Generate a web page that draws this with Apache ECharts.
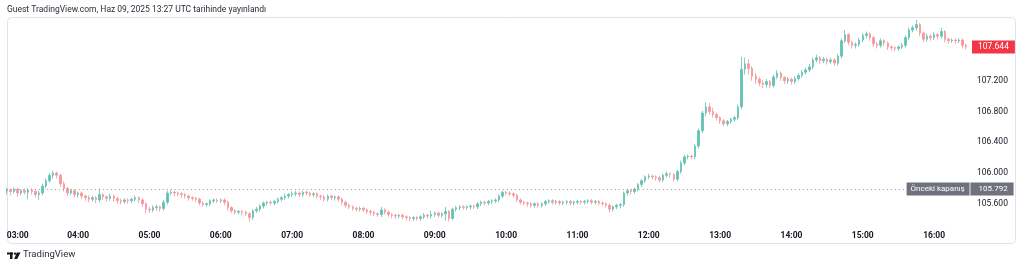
<!DOCTYPE html>
<html><head><meta charset="utf-8">
<script src="https://cdn.jsdelivr.net/npm/echarts@6/dist/echarts.min.js"></script>
<style>html,body{margin:0;padding:0;background:#fff}#c{width:1024px;height:268px}</style>
</head><body><div id="c"></div>
<script>
// --- data (3-minute candles: open, close, low, high) ---
const startMinute = 180;   // 03:00
const stepMinutes = 3;
const ohlc = [
[105.77,105.78,105.72,105.81],[105.78,105.76,105.71,105.80],[105.76,105.79,105.73,105.81],[105.79,105.74,105.69,105.81],
[105.74,105.77,105.71,105.79],[105.77,105.75,105.72,105.80],[105.75,105.78,105.66,105.80],[105.78,105.76,105.72,105.80],
[105.76,105.72,105.68,105.78],[105.72,105.74,105.65,105.77],[105.74,105.83,105.71,105.86],[105.83,105.90,105.80,105.93],
[105.90,105.97,105.87,106.00],[105.97,106.00,105.93,106.03],[106.00,105.97,105.93,106.02],[105.97,105.86,105.82,105.99],
[105.86,105.80,105.76,105.89],[105.80,105.74,105.70,105.82],[105.74,105.77,105.71,105.79],[105.77,105.72,105.68,105.79],
[105.72,105.74,105.68,105.76],[105.74,105.70,105.66,105.76],[105.70,105.68,105.64,105.72],[105.68,105.66,105.62,105.71],
[105.66,105.68,105.63,105.70],[105.68,105.65,105.61,105.70],[105.65,105.72,105.62,105.80],[105.72,105.69,105.65,105.74],
[105.69,105.67,105.63,105.71],[105.67,105.70,105.64,105.73],[105.70,105.67,105.63,105.72],[105.67,105.64,105.60,105.69],
[105.64,105.63,105.59,105.67],[105.63,105.65,105.60,105.67],[105.65,105.64,105.60,105.67],[105.64,105.66,105.61,105.68],
[105.66,105.68,105.63,105.71],[105.68,105.65,105.61,105.70],[105.65,105.60,105.56,105.67],[105.60,105.53,105.47,105.62],
[105.53,105.52,105.48,105.56],[105.52,105.55,105.49,105.58],[105.55,105.56,105.51,105.59],[105.56,105.54,105.50,105.58],
[105.54,105.62,105.51,105.65],[105.62,105.74,105.59,105.77],[105.74,105.75,105.71,105.78],[105.75,105.74,105.70,105.77],
[105.74,105.73,105.70,105.76],[105.73,105.72,105.68,105.75],[105.72,105.70,105.67,105.74],[105.70,105.68,105.64,105.72],
[105.68,105.67,105.64,105.70],[105.67,105.66,105.62,105.69],[105.66,105.61,105.58,105.68],[105.61,105.59,105.56,105.63],
[105.59,105.60,105.56,105.62],[105.60,105.64,105.57,105.66],[105.64,105.65,105.61,105.67],[105.65,105.64,105.61,105.67],
[105.64,105.65,105.61,105.67],[105.65,105.62,105.58,105.67],[105.62,105.55,105.51,105.64],[105.55,105.51,105.48,105.57],
[105.51,105.49,105.46,105.53],[105.49,105.50,105.46,105.52],[105.50,105.49,105.45,105.52],[105.49,105.47,105.44,105.51],
[105.47,105.42,105.37,105.49],[105.42,105.51,105.39,105.53],[105.51,105.53,105.48,105.56],[105.53,105.57,105.50,105.59],
[105.57,105.61,105.54,105.63],[105.61,105.62,105.58,105.64],[105.62,105.61,105.58,105.64],[105.61,105.63,105.58,105.65],
[105.63,105.66,105.60,105.68],[105.66,105.68,105.63,105.70],[105.68,105.70,105.65,105.73],[105.70,105.72,105.67,105.74],
[105.72,105.73,105.69,105.76],[105.73,105.74,105.70,105.77],[105.74,105.72,105.69,105.76],[105.72,105.75,105.69,105.77],
[105.75,105.74,105.71,105.77],[105.74,105.72,105.69,105.76],[105.72,105.73,105.69,105.75],[105.73,105.70,105.67,105.75],
[105.70,105.69,105.65,105.72],[105.69,105.66,105.63,105.71],[105.66,105.70,105.63,105.72],[105.70,105.68,105.65,105.72],
[105.68,105.69,105.64,105.71],[105.69,105.66,105.63,105.71],[105.66,105.62,105.58,105.68],[105.62,105.58,105.55,105.64],
[105.58,105.56,105.53,105.60],[105.56,105.54,105.51,105.58],[105.54,105.53,105.50,105.56],[105.53,105.54,105.50,105.56],
[105.54,105.52,105.49,105.56],[105.52,105.50,105.47,105.54],[105.50,105.49,105.45,105.52],[105.49,105.47,105.44,105.51],
[105.47,105.46,105.43,105.49],[105.46,105.52,105.43,105.56],[105.52,105.49,105.46,105.54],[105.49,105.46,105.43,105.51],
[105.46,105.45,105.41,105.48],[105.45,105.44,105.40,105.47],[105.44,105.45,105.41,105.47],[105.45,105.43,105.40,105.47],
[105.43,105.42,105.38,105.45],[105.42,105.41,105.37,105.44],[105.41,105.42,105.38,105.44],[105.42,105.41,105.38,105.44],
[105.41,105.43,105.38,105.45],[105.43,105.45,105.40,105.48],[105.45,105.44,105.41,105.47],[105.44,105.46,105.41,105.51],
[105.46,105.48,105.43,105.50],[105.48,105.45,105.42,105.50],[105.45,105.47,105.42,105.49],[105.47,105.50,105.38,105.56],
[105.50,105.41,105.37,105.52],[105.41,105.53,105.39,105.55],[105.53,105.55,105.50,105.57],[105.55,105.56,105.52,105.58],
[105.56,105.55,105.52,105.58],[105.55,105.56,105.52,105.58],[105.56,105.57,105.53,105.59],[105.57,105.56,105.53,105.59],
[105.56,105.60,105.53,105.62],[105.60,105.62,105.57,105.64],[105.62,105.61,105.58,105.64],[105.61,105.63,105.58,105.65],
[105.63,105.64,105.60,105.66],[105.64,105.65,105.61,105.67],[105.65,105.70,105.62,105.72],[105.70,105.75,105.67,105.77],
[105.75,105.74,105.71,105.77],[105.74,105.73,105.70,105.76],[105.73,105.71,105.68,105.75],[105.71,105.65,105.62,105.73],
[105.65,105.62,105.59,105.67],[105.62,105.61,105.58,105.64],[105.61,105.60,105.56,105.63],[105.60,105.58,105.55,105.62],
[105.58,105.60,105.55,105.62],[105.60,105.58,105.55,105.62],[105.58,105.60,105.55,105.62],[105.60,105.63,105.57,105.65],
[105.63,105.64,105.60,105.66],[105.64,105.62,105.59,105.66],[105.62,105.63,105.59,105.65],[105.63,105.61,105.58,105.65],
[105.61,105.62,105.58,105.64],[105.62,105.63,105.59,105.65],[105.63,105.61,105.58,105.65],[105.61,105.62,105.58,105.64],
[105.62,105.63,105.59,105.65],[105.63,105.62,105.59,105.65],[105.62,105.63,105.59,105.65],[105.63,105.64,105.60,105.66],
[105.64,105.62,105.59,105.66],[105.62,105.63,105.59,105.65],[105.63,105.61,105.58,105.65],[105.61,105.60,105.57,105.63],
[105.60,105.58,105.55,105.62],[105.58,105.53,105.49,105.60],[105.53,105.56,105.50,105.58],[105.56,105.58,105.53,105.60],
[105.58,105.59,105.54,105.61],[105.59,105.74,105.56,105.76],[105.74,105.77,105.71,105.79],[105.77,105.76,105.72,105.79],
[105.76,105.79,105.73,105.81],[105.79,105.85,105.76,105.87],[105.85,105.90,105.82,105.92],[105.90,105.95,105.87,105.97],
[105.95,105.96,105.92,105.99],[105.96,105.95,105.92,105.98],[105.95,105.94,105.90,105.97],[105.94,105.91,105.88,105.96],
[105.91,105.97,105.88,105.99],[105.97,105.99,105.94,106.02],[105.99,105.98,105.94,106.01],[105.98,105.92,105.89,106.00],
[105.92,106.02,105.89,106.04],[106.02,106.13,105.99,106.16],[106.13,106.21,106.10,106.24],[106.21,106.22,106.18,106.24],
[106.22,106.21,106.18,106.24],[106.21,106.35,106.18,106.38],[106.35,106.55,106.32,106.58],[106.55,106.78,106.52,106.81],
[106.78,106.86,106.74,106.92],[106.86,106.80,106.76,106.91],[106.80,106.76,106.72,106.85],[106.76,106.72,106.68,106.78],
[106.72,106.68,106.64,106.74],[106.68,106.64,106.61,106.70],[106.64,106.67,106.61,106.69],[106.67,106.70,106.64,106.72],
[106.70,106.72,106.67,106.74],[106.72,106.86,106.69,106.89],[106.86,107.35,106.83,107.51],[107.35,107.42,107.28,107.50],
[107.42,107.36,107.28,107.48],[107.36,107.26,107.20,107.39],[107.26,107.22,107.16,107.30],[107.22,107.17,107.13,107.25],
[107.17,107.15,107.10,107.21],[107.15,107.19,107.11,107.22],[107.19,107.14,107.10,107.21],[107.14,107.25,107.11,107.28],
[107.25,107.30,107.22,107.34],[107.30,107.24,107.20,107.32],[107.24,107.20,107.16,107.26],[107.20,107.22,107.16,107.25],
[107.22,107.19,107.15,107.24],[107.19,107.23,107.16,107.26],[107.23,107.27,107.20,107.30],[107.27,107.31,107.24,107.34],
[107.31,107.34,107.28,107.37],[107.34,107.38,107.31,107.42],[107.38,107.47,107.35,107.50],[107.47,107.50,107.44,107.54],
[107.50,107.46,107.42,107.52],[107.46,107.48,107.43,107.51],[107.48,107.45,107.41,107.50],[107.45,107.47,107.42,107.50],
[107.47,107.43,107.39,107.49],[107.43,107.52,107.40,107.55],[107.52,107.72,107.49,107.75],[107.72,107.80,107.69,107.86],
[107.80,107.70,107.66,107.82],[107.70,107.66,107.62,107.72],[107.66,107.67,107.62,107.70],[107.67,107.73,107.64,107.76],
[107.73,107.79,107.70,107.82],[107.79,107.81,107.75,107.84],[107.81,107.76,107.72,107.83],[107.76,107.68,107.64,107.78],
[107.68,107.66,107.62,107.70],[107.66,107.72,107.63,107.75],[107.72,107.69,107.65,107.74],[107.69,107.64,107.60,107.71],
[107.64,107.63,107.59,107.66],[107.63,107.62,107.58,107.65],[107.62,107.64,107.59,107.66],[107.64,107.66,107.61,107.69],
[107.66,107.76,107.63,107.79],[107.76,107.86,107.73,107.89],[107.86,107.89,107.83,107.92],[107.89,107.93,107.85,107.99],
[107.93,107.82,107.78,107.95],[107.82,107.74,107.70,107.84],[107.74,107.78,107.71,107.81],[107.78,107.76,107.72,107.80],
[107.76,107.80,107.73,107.83],[107.80,107.78,107.74,107.82],[107.78,107.84,107.75,107.89],[107.84,107.74,107.70,107.86],
[107.74,107.72,107.68,107.76],[107.72,107.73,107.69,107.75],[107.73,107.72,107.68,107.75],[107.72,107.73,107.69,107.75],
[107.73,107.66,107.62,107.75],[107.66,107.644,107.61,107.68]
];
const yTicks = [105.6, 106.0, 106.4, 106.8, 107.2];
const lastPrice = 107.644;
const prevClose = 105.792;
const prevCloseLabel = 'Önceki kapanış';
const titleText = 'Guest TradingView.com, Haz 09, 2025 13:27 UTC tarihinde yayınlandı';
const brandText = 'TradingView';

// category labels (time of each candle)
const categories = ohlc.map((_, i) => {
  const m = startMinute + i * stepMinutes;
  return String(Math.floor(m / 60)).padStart(2, '0') + ':' + String(m % 60).padStart(2, '0');
});

const UP = '#62c2b2', DOWN = '#f6959a';
const FONT = 'Roboto, "Liberation Sans", sans-serif';
const chart = echarts.init(document.getElementById('c'), null, { renderer: 'canvas' });
chart.setOption({
  animation: false,
  backgroundColor: '#ffffff',
  grid: { left: 5, right: 56, top: 18, bottom: 42 },
  xAxis: {
    type: 'category', data: categories, boundaryGap: true,
    axisLine: { show: false }, axisTick: { show: false }, splitLine: { show: false },
    axisLabel: {
      interval: (idx, val) => val.endsWith(':00'),
      color: '#131722', fontSize: 8.5, fontWeight: 'bold', fontFamily: FONT, margin: 5,
      alignMinLabel: 'left'
    }
  },
  yAxis: {
    type: 'value', position: 'right', min: 105.311, max: 108.016, scale: true,
    axisLine: { show: false }, axisTick: { show: false }, splitLine: { show: false },
    axisLabel: {
      customValues: yTicks, formatter: v => v.toFixed(3),
      color: '#131722', fontSize: 8.5, fontFamily: FONT, margin: 9, padding: [4, 0, 0, 0]
    }
  },
  series: [{
    type: 'candlestick', data: ohlc, barWidth: 2,
    itemStyle: { color: UP, color0: DOWN, borderColor: UP, borderColor0: DOWN, borderWidth: 0.8 },
    markLine: {
      silent: true, symbol: 'none', animation: false,
      data: [
        [{ coord: [0, prevClose],
           lineStyle: { type: [1, 3], color: '#9598a1', width: 1 },
           label: { show: true, position: 'end', distance: 1,
             formatter: '{a|' + prevCloseLabel + '}{s|}{b|' + prevClose.toFixed(3) + '}',
             rich: {
               a: { backgroundColor: '#6f727c', color: '#ffffff', fontSize: 8, fontFamily: FONT, padding: [2, 3, 2, 4], width: 56, height: 9, lineHeight: 9 },
               s: { backgroundColor: '#b8bbc3', width: 1, height: 13 },
               b: { backgroundColor: '#6f727c', color: '#ffffff', fontSize: 8, fontFamily: FONT, padding: [2, 4, 2, 8], width: 31, height: 9, lineHeight: 9 }
             } } },
         { coord: [252, prevClose] }],
        { yAxis: lastPrice,
          lineStyle: { color: 'rgba(0,0,0,0)', width: 0 },
          label: { show: true, position: 'end', distance: 4, formatter: lastPrice.toFixed(3),
            backgroundColor: '#f23645', color: '#ffffff', fontSize: 8.5, fontFamily: FONT,
            padding: [2, 6, 2, 6], opacity: 1 } }
      ]
    }
  }],
  graphic: [
    { type: 'rect', shape: { x: 7.5, y: 17.5, width: 1008, height: 226, r: 4 }, style: { fill: 'none', stroke: '#e0e3eb', lineWidth: 1 }, silent: true },
    { type: 'text', left: 7, top: 5, style: { text: titleText, fill: '#2a2e39', font: '8.5px ' + FONT } },
    { type: 'rect', shape: { x: 7, y: 252.5, width: 6, height: 2 }, style: { fill: '#131722' } },
    { type: 'rect', shape: { x: 10, y: 252.5, width: 2.5, height: 6.5 }, style: { fill: '#131722' } },
    { type: 'circle', shape: { cx: 15, cy: 253.6, r: 1.2 }, style: { fill: '#131722' } },
    { type: 'polygon', shape: { points: [[16.8, 252.5], [20.5, 252.5], [17.2, 259], [14.2, 259]] }, style: { fill: '#131722' } },
    { type: 'text', left: 23, top: 250, style: { text: brandText, fill: '#2a2e39', font: '9.5px ' + FONT } }
  ]
});
</script></body></html>
